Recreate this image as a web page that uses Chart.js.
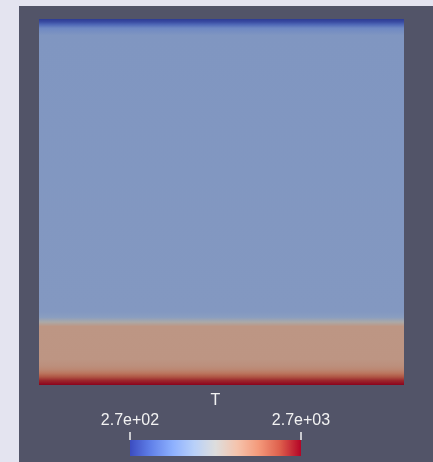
<!DOCTYPE html>
<html lang="en">
<head>
  <meta charset="UTF-8" />
  <title>T</title>
  <style>
    body {
      margin: 0;
      background-color: #e4e4f0;
      width: 433px;
      height: 462px;
      overflow: hidden;
    }

    .panel {
      position: absolute;
      left: 19px;
      top: 6px;
      width: 414px;
      height: 456px;
      background-color: #525468;
    }
  </style>
  <script src="https://cdn.jsdelivr.net/npm/chart.js"></script>
</head>
<body>

  <div class="panel"><canvas id="field" width="414" height="456"></canvas></div>

  <script>
    // temperature profile over the domain height (0 = bottom wall, 1 = top wall)
    const heights = [0, 0.012, 0.022, 0.032, 0.042, 0.052, 0.07, 0.16, 0.172, 0.185, 0.2, 0.955, 0.975, 0.985, 0.992, 1];
    const temps   = [2700, 2550, 2320, 2100, 1940, 1860, 1810, 1800, 1500, 1150, 1080, 1060, 900, 600, 400, 270];

    const tRange = [270, 2700];
    const tickLabels = ['2.7e+02', '2.7e+03'];
    const fieldName = 'T';

    // cool to warm colour map
    const coolWarm = [
      [0.0, 59, 76, 192], [0.125, 98, 130, 234], [0.25, 141, 176, 254],
      [0.375, 184, 208, 249], [0.5, 221, 221, 221], [0.625, 245, 196, 173],
      [0.75, 244, 154, 123], [0.875, 222, 96, 77], [1.0, 180, 4, 38]
    ];
    const shade = 0.77;

    function mapColor(t, k) {
      let s = (t - tRange[0]) / (tRange[1] - tRange[0]);
      s = Math.max(0, Math.min(1, s));
      let i = 0;
      while (i < coolWarm.length - 2 && s > coolWarm[i + 1][0]) i++;
      const a = coolWarm[i], b = coolWarm[i + 1];
      const f = (s - a[0]) / (b[0] - a[0]);
      const c = [1, 2, 3].map(j => Math.round((a[j] + (b[j] - a[j]) * f) * k));
      return `rgb(${c[0]},${c[1]},${c[2]})`;
    }

    function fieldFill(context) {
      const chart = context.chart;
      const y = chart.scales.y;
      if (!chart.chartArea || !y) return mapColor(temps[7], shade);
      const y0 = y.getPixelForValue(0);
      const y1 = y.getPixelForValue(1);
      const grad = chart.ctx.createLinearGradient(0, y0, 0, y1);
      for (let i = 0; i < heights.length; i++) {
        const off = (y.getPixelForValue(heights[i]) - y0) / (y1 - y0);
        grad.addColorStop(Math.max(0, Math.min(1, off)), mapColor(temps[i], shade));
      }
      return grad;
    }

    // colour legend under the field
    const colorBar = {
      id: 'colorBar',
      afterDraw(chart) {
        const ctx = chart.ctx;
        const left = 111, right = 282, top = 434, bottom = 450;
        const grad = ctx.createLinearGradient(left, 0, right, 0);
        for (let i = 0; i <= 32; i++) {
          const t = tRange[0] + (tRange[1] - tRange[0]) * i / 32;
          grad.addColorStop(i / 32, mapColor(t, 1));
        }
        ctx.save();
        ctx.fillStyle = grad;
        ctx.fillRect(left, top, right - left, bottom - top);

        ctx.strokeStyle = '#f2f2f2';
        ctx.lineWidth = 1.5;
        ctx.fillStyle = '#f2f2f2';
        ctx.font = '16px "Liberation Sans", Arial, sans-serif';
        ctx.textAlign = 'center';
        ctx.textBaseline = 'alphabetic';
        tRange.forEach((t, i) => {
          const x = left + (t - tRange[0]) / (tRange[1] - tRange[0]) * (right - left);
          ctx.beginPath();
          ctx.moveTo(x, top - 8);
          ctx.lineTo(x, top);
          ctx.stroke();
          ctx.fillText(tickLabels[i], x, 419);
        });
        ctx.fillText(fieldName, (left + right) / 2, 399);
        ctx.restore();
      }
    };

    new Chart(document.getElementById('field'), {
      type: 'bar',
      data: {
        labels: [fieldName],
        datasets: [{
          data: [[heights[0], heights[heights.length - 1]]],
          backgroundColor: fieldFill,
          borderWidth: 0,
          barPercentage: 1,
          categoryPercentage: 1
        }]
      },
      options: {
        responsive: false,
        devicePixelRatio: 1,
        animation: false,
        layout: { padding: { left: 20, right: 29, top: 13, bottom: 77 } },
        scales: {
          x: { display: false },
          y: { display: false, min: 0, max: 1 }
        },
        plugins: {
          legend: { display: false },
          tooltip: { enabled: false }
        }
      },
      plugins: [colorBar]
    });
  </script>

</body>
</html>
